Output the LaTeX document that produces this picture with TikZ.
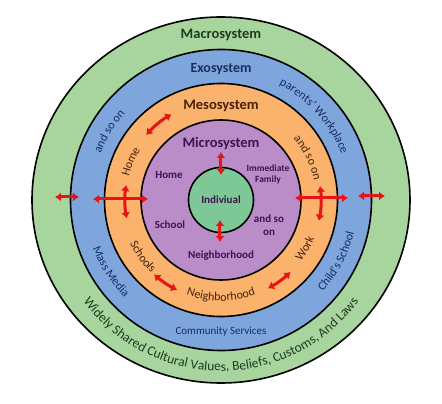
\documentclass[tikz,border=0pt]{standalone}
\usepackage{fontspec}
\setmainfont{Carlito}
\usetikzlibrary{arrows.meta,decorations.text}
\definecolor{macrofill}{RGB}{168,213,158}
\definecolor{exofill}{RGB}{126,166,220}
\definecolor{mesofill}{RGB}{250,178,108}
\definecolor{microfill}{RGB}{186,140,200}
\definecolor{selffill}{RGB}{125,200,150}
\definecolor{linkred}{RGB}{230,20,20}
\definecolor{macrotext}{RGB}{30,60,30}
\definecolor{exotext}{RGB}{25,45,95}
\definecolor{mesotext}{RGB}{70,35,10}
\definecolor{microtext}{RGB}{60,20,80}
\tikzset{
  ring/.style={draw=black, line width=1.6pt},
  title/.style={font=\bfseries\fontsize{14.5}{16}\selectfont},
  inner/.style={font=\bfseries\fontsize{11}{13}\selectfont, text=microtext, align=center},
  link/.style={draw=linkred, line width=3pt, {Latex[length=6pt,width=9pt]}-{Latex[length=6pt,width=9pt]}}
}
% #1 size, #2 colour, #3 radius, #4 start, #5 end, #6 text
\newcommand{\ringtext}[6]{%
  \path[decorate, decoration={text along path, text align=center, text color=#2,
    text={|\fontsize{#1}{#1}\selectfont|#6}}]
    (#4:#3) arc[start angle=#4, end angle=#5, radius=#3];}
\begin{document}
\begin{tikzpicture}[x=1pt, y=1pt]
\useasboundingbox (-221,-204) rectangle (221,200);
% rings
\draw[ring, fill=macrofill] (0,0) ellipse[x radius=189, y radius=183];
\draw[ring, fill=exofill] (0,0) circle[radius=150.5];
\draw[ring, fill=mesofill] (0,0) circle[radius=116.5];
\draw[ring, fill=microfill] (0,0) circle[radius=80];
\draw[ring, fill=selffill] (0,0) circle[radius=32.5];
% titles
\node[title, text=macrotext] (macro) at (0,165) {Macrosystem};
\node[title, text=exotext, font=\bfseries\fontsize{14}{16}\selectfont] (exo) at (0,131) {Exosystem};
\node[title, text=mesotext] (meso) at (0,94) {Mesosystem};
\node[title, text=microtext] (micro) at (0,56) {Microsystem};
\node[inner] (self) at (0,0) {Indiviual};
% microsystem
\node[inner] (home) at (-52,25) {Home};
\node[inner, font=\bfseries\fontsize{9.5}{11}\selectfont] (family) at (47,26) {Immediate\\Family};
\node[inner] (school) at (-51,-25) {School};
\node[inner] (other) at (48,-25.5) {and so\\on};
\node[inner] (hood) at (0,-56) {Neighborhood};
% mesosystem
\ringtext{12}{mesotext}{95}{175}{139}{Home}
\ringtext{12}{mesotext}{95}{50}{2}{and so on}
\ringtext{12}{mesotext}{101}{192}{240}{Schools}
\ringtext{12}{mesotext}{101}{230}{310}{Neighborhood}
\ringtext{12}{mesotext}{101}{312}{348}{Work}
% exosystem
\ringtext{12}{exotext}{129}{172}{125}{and so on}
\ringtext{12}{exotext}{129}{72}{12}{parents’ Workplace}
\ringtext{12}{exotext}{137}{186}{240}{Mass Media}
\ringtext{12}{exotext}{137}{300}{364}{Child's School}
\node[font=\fontsize{11}{13}\selectfont, text=exotext] (services) at (0,-132) {Community Services};
% macrosystem
\ringtext{13.5}{macrotext}{171}{200}{340}{Widely Shared Cultural Values, Beliefs, Customs, And Laws}
% links
\coordinate (a1) at (-166,3); \coordinate (a2) at (-142,3);
\coordinate (b1) at (-128,1); \coordinate (b2) at (-73,1);
\coordinate (c1) at (74,2);   \coordinate (c2) at (127,2);
\coordinate (d1) at (137,4);  \coordinate (d2) at (164,4);
\coordinate (e1) at (0,48);   \coordinate (e2) at (0,25);
\coordinate (f1) at (-1,-20); \coordinate (f2) at (-1,-42);
\draw[link] (a1) -- (a2);
\draw[link] (b1) -- (b2);
\draw[link] (c1) -- (c2);
\draw[link] (d1) -- (d2);
\draw[link] (e1) -- (e2);
\draw[link] (f1) -- (f2);
\draw[link] (171:96) arc[start angle=171, end angle=191, radius=96];
\draw[link] (8:100) arc[start angle=8, end angle=-12, radius=100];
\draw[link] (139:99) arc[start angle=139, end angle=120, radius=99];
\draw[link] (228:100) arc[start angle=228, end angle=244, radius=100];
\draw[link] (298:100) arc[start angle=298, end angle=314, radius=100];
\end{tikzpicture}
\end{document}
